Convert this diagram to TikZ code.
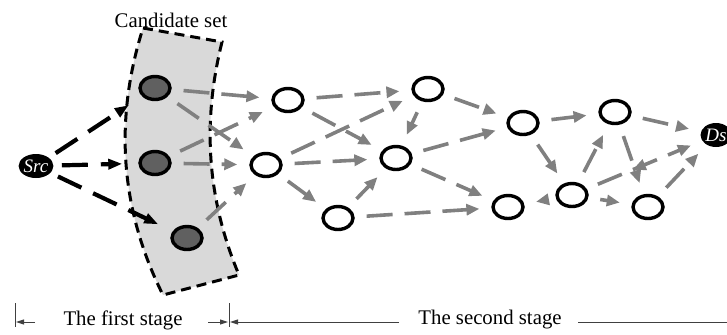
\documentclass[tikz,border=0pt]{standalone}
\usepackage{fontspec}
\setmainfont{Liberation Serif}
\usetikzlibrary{arrows.meta,shapes.geometric,decorations.markings}

\definecolor{linkgray}{RGB}{128,128,128}
\definecolor{candfill}{RGB}{96,96,96}
\definecolor{bandfill}{RGB}{217,217,217}

\begin{document}
\begin{tikzpicture}[x=0.5pt,y=-0.5pt,
  plain/.style={ellipse,draw=black,line width=1.7pt,fill=white,
    minimum width=15pt,minimum height=11.5pt,inner sep=0pt},
  cand/.style={plain,fill=candfill},
  term/.style={ellipse,fill=black,text=white,minimum width=15.5pt,
    minimum height=12pt,inner sep=0pt,
    font=\fontsize{9.5}{10}\selectfont\itshape},
  link/.style={color=linkgray,line width=1.8pt,dash pattern=on 13pt off 6pt,
    -{Triangle[length=6.5pt,width=5.5pt]},shorten <=6pt,shorten >=6pt},
  srclink/.style={color=black,line width=2.1pt,dash pattern=on 13pt off 6.5pt,
    -{Triangle[length=7pt,width=5pt]},shorten <=4pt,shorten >=8pt},
  bandline/.style={draw=black,line width=1.5pt,dash pattern=on 5pt off 3pt,fill=bandfill},
  dimline/.style={draw=black!75,line width=0.5pt},
  dimarrow/.style={dimline,-{Triangle[length=4pt,width=2.5pt]}},
  label/.style={font=\fontsize{10.4}{12}\selectfont,inner sep=0pt},
  backmark/.style={postaction={decorate},decoration={markings,
    mark=at position 0.4 with {\arrowreversed{Triangle[length=6.5pt,width=5.5pt]}}}}
]
\useasboundingbox (0,0) rectangle (727,334);

% candidate set band
\draw[bandline] (143,28) -- (222,42) .. controls (202,122) and (207,199) .. (239,275)
  -- (163,295) .. controls (120,209) and (114,120) .. cycle;
\node[label] (cs) at (171,20) {Candidate set};

% nodes
\node[term] (src) at (36,166) {Src};
\node[cand] (c1) at (155,88) {};
\node[cand] (c2) at (155,163) {};
\node[cand] (c3) at (187,238) {};
\node[plain] (a) at (288,100) {};
\node[plain] (b) at (266,165) {};
\node[plain] (c) at (338,218) {};
\node[plain] (d) at (396,158) {};
\node[plain] (e) at (428,89) {};
\node[plain] (f) at (523,123) {};
\node[plain] (g) at (508,207) {};
\node[plain] (h) at (572,195) {};
\node[plain] (i) at (615,112) {};
\node[plain] (j) at (648,207) {};
\node[term] (ds) at (716,135) {Ds};

% first stage: source to candidates
\draw[srclink] (src) -- (c1);
\draw[srclink] (src) -- (c2);
\draw[srclink] (src) -- (c3);

% second stage links
\draw[link] (c1) -- (a);
\draw[link] (c1) -- (b);
\draw[link] (c2) -- (a);
\draw[link] (c2) -- (b);
\draw[link] (c3) -- (b);
\draw[link] (a) -- (e);
\draw[link] (a) -- (d);
\draw[link] (b) -- (e);
\draw[link] (b) -- (d);
\draw[link] (b) -- (c);
\draw[link] (c) -- (d);
\draw[link] (c) -- (g);
\draw[link] (e) -- (d);
\draw[link] (e) -- (f);
\draw[link] (d) -- (f);
\draw[link] (d) -- (g);
\draw[link] (f) -- (i);
\draw[link] (f) -- (h);
\draw[link] (h) -- (g);
\draw[link] (h) -- (i);
\draw[link] (h) -- (j);
\draw[link,backmark] (h) -- (ds);
\draw[link] (i) -- (j);
\draw[link] (i) -- (ds);
\draw[link] (j) -- (ds);

% stage dimensions
\coordinate (t1top) at (15,303);
\coordinate (t1bot) at (15,327);
\coordinate (t2top) at (229,303);
\coordinate (t2bot) at (229,327);
\coordinate (l1s) at (35,322);
\coordinate (l1e) at (16,322);
\coordinate (r1s) at (208,322);
\coordinate (r1e) at (228,322);
\coordinate (l2s) at (399,322);
\coordinate (l2e) at (230,322);
\coordinate (r2s) at (578,322);
\coordinate (r2e) at (727,322);
\draw[dimline] (t1top) -- (t1bot);
\draw[dimline] (t2top) -- (t2bot);
\draw[dimarrow] (l1s) -- (l1e);
\draw[dimarrow] (r1s) -- (r1e);
\draw[dimarrow] (l2s) -- (l2e);
\draw[dimline] (r2s) -- (r2e);
\node[label] (st1) at (123,320) {The first stage};
\node[label] (st2) at (490,320) {The second stage};
\end{tikzpicture}
\end{document}
